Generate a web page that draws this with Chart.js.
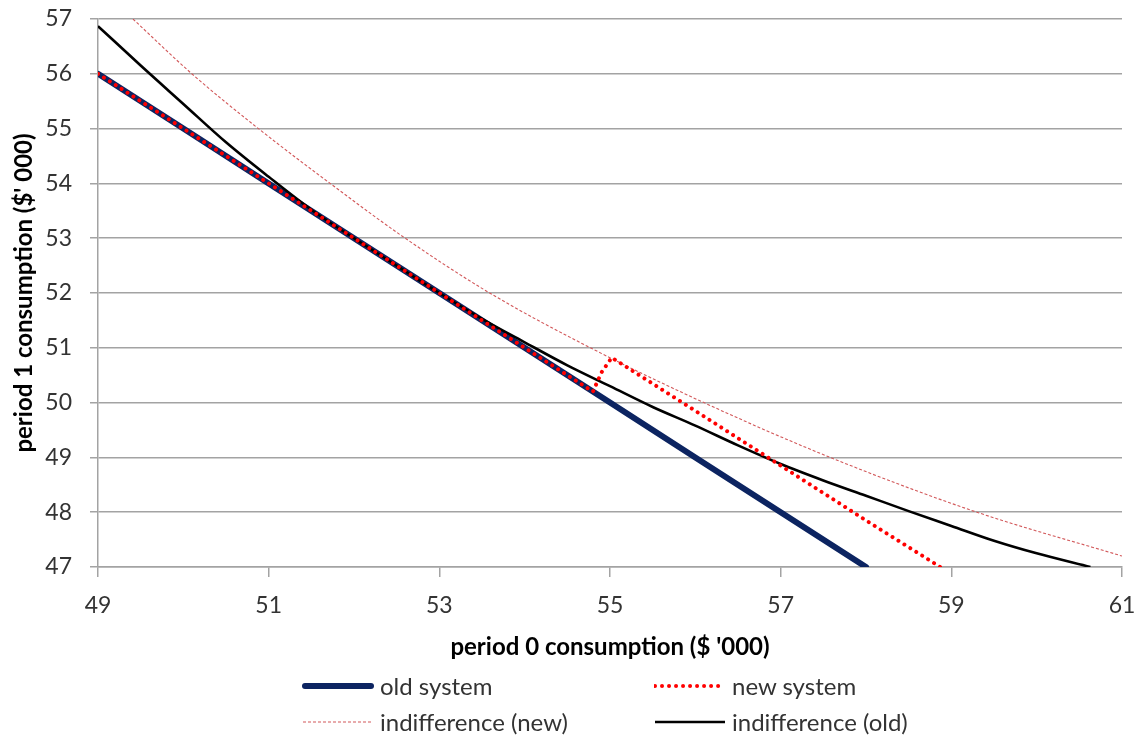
<!DOCTYPE html>
<html>
<head>
<meta charset="utf-8">
<script src="https://cdn.jsdelivr.net/npm/chart.js@4.4.1/dist/chart.umd.min.js"></script>
<style>
  html, body { margin: 0; padding: 0; background: #ffffff; }
  #wrap { position: relative; width: 1139px; height: 735px; overflow: hidden; }
  #c { position: absolute; left: 0; top: 0; }
  .lg { position: absolute; height: 30px; line-height: 30px; font-family: Lato, sans-serif; font-size: 24px; color: #333; white-space: nowrap; }
  .lg svg { position: absolute; left: 0; top: 0; }
  .lg span { position: absolute; top: 0; }
</style>
</head>
<body>
<div id="wrap">
  <canvas id="c" width="1139" height="735"></canvas>
  <div id="legend"></div>
</div>
<script>
// ---- data ----
const seriesNames = ["old system", "new system", "indifference (new)", "indifference (old)"];

const oldSystemX = [49, 50, 51, 52, 53, 54, 55, 56, 57, 58];
const oldSystemY = [56, 55, 54, 53, 52, 51, 50, 49, 48, 47];

const newSystemX = [49, 50, 51, 52, 53, 54, 54.8, 54.9, 55.02, 56, 57, 58, 58.87];
const newSystemY = [56, 55, 54, 53, 52, 51, 50.2, 50.55, 50.82, 49.85, 48.85, 47.85, 47];

const indiffNewX = [49.41, 50.1, 50.88, 51.72, 52.6, 53.59, 54.77, 56.1, 57.58, 59.3, 61];
const indiffNewY = [57, 56, 55, 54, 53, 52, 51, 50, 49, 48, 47.2];

const indiffOldX = [49, 49.5, 50, 50.5, 51, 51.5, 52, 52.5, 53, 53.5, 54, 54.5, 55, 55.5, 56, 56.5, 57, 57.5, 58, 58.5, 59, 59.5, 60, 60.63];
const indiffOldY = [56.87, 56.15, 55.45, 54.75, 54.12, 53.52, 53.0, 52.5, 52.0, 51.53, 51.1, 50.68, 50.3, 49.92, 49.58, 49.22, 48.88, 48.58, 48.3, 48.02, 47.75, 47.48, 47.25, 47];

const xTickValues = [49, 51, 53, 55, 57, 59, 61];
const yTickValues = [47, 48, 49, 50, 51, 52, 53, 54, 55, 56, 57];

const xTitle = "period 0 consumption ($ '000)";
const yTitle = "period 1 consumption ($' 000)";

// ---- helpers ----
function pts(xs, ys) { return xs.map((x, i) => ({ x: x, y: ys[i] })); }

const NAVY = '#0c2461';
const RED = '#ff0000';
const PINK = '#d2585a';
const GRID = '#a3a3a3';

const datasets = [
  { label: seriesNames[0], data: pts(oldSystemX, oldSystemY), borderColor: NAVY, borderWidth: 6,
    borderCapStyle: 'round', tension: 0, order: 4 },
  { label: seriesNames[1], data: pts(newSystemX, newSystemY), borderColor: RED, borderWidth: 4,
    borderCapStyle: 'round', borderDash: [0.01, 7], tension: 0, order: 1 },
  { label: seriesNames[2], data: pts(indiffNewX, indiffNewY), borderColor: PINK, borderWidth: 1.1,
    borderDash: [3, 2], cubicInterpolationMode: 'monotone', order: 3 },
  { label: seriesNames[3], data: pts(indiffOldX, indiffOldY), borderColor: '#000000', borderWidth: 2.6,
    cubicInterpolationMode: 'monotone', order: 2 }
];
datasets.forEach(d => { d.pointRadius = 0; d.pointHoverRadius = 0; d.fill = false; d.clip = 0; });

const FONT = 'Lato, sans-serif';

new Chart(document.getElementById('c'), {
  type: 'line',
  data: { datasets: datasets },
  options: {
    responsive: false,
    devicePixelRatio: 1,
    animation: false,
    events: [],
    layout: { padding: { left: 0, right: 17, top: 19, bottom: 72 } },
    plugins: { legend: { display: false }, tooltip: { enabled: false } },
    scales: {
      x: {
        type: 'linear', min: 49, max: 61,
        afterBuildTicks: s => { s.ticks = xTickValues.map(v => ({ value: v })); },
        afterFit: s => { s.height = 96; s.paddingLeft = 0; s.paddingRight = 10; },
        ticks: { color: '#333', font: { family: FONT, size: 23 }, padding: 15, maxRotation: 0 },
        grid: { drawOnChartArea: false, drawTicks: true, tickLength: 10, color: GRID, lineWidth: 1.5 },
        border: { display: true, color: GRID, width: 1.5 },
        title: { display: true, text: xTitle, color: '#000', font: { family: FONT, size: 24, weight: 'bold' },
                 padding: { top: 0, bottom: 1 } }
      },
      y: {
        type: 'linear', min: 47, max: 57,
        afterBuildTicks: s => { s.ticks = yTickValues.map(v => ({ value: v })); },
        afterFit: s => { s.width = 98; s.paddingTop = 10; s.paddingBottom = 10; },
        ticks: { color: '#333', font: { family: FONT, size: 23 }, padding: 18 },
        grid: { drawOnChartArea: true, drawTicks: true, tickLength: 8, color: GRID, lineWidth: 1.5 },
        border: { display: true, color: GRID, width: 1.5 },
        title: { display: true, text: yTitle, color: '#000', font: { family: FONT, size: 24, weight: 'bold' },
                 padding: { top: 10, bottom: 0 } }
      }
    }
  }
});

// ---- legend (two-column grid like the reference), built from the datasets ----
const legendPos = [
  { left: 302, top: 671 }, { left: 654, top: 671 },
  { left: 302, top: 707 }, { left: 654, top: 707 }
];
const legendEl = document.getElementById('legend');
datasets.forEach((d, i) => {
  const item = document.createElement('div');
  item.className = 'lg';
  item.style.left = legendPos[i].left + 'px';
  item.style.top = legendPos[i].top + 'px';
  item.style.width = '320px';
  const dash = d.borderDash ? d.borderDash.join(' ') : 'none';
  const cap = d.borderCapStyle || 'butt';
  const x1 = cap === 'round' && !d.borderDash ? 3 : 1;
  item.innerHTML =
    '<svg width="72" height="30"><line x1="' + x1 + '" y1="15" x2="' + (71 - x1 + 1) + '" y2="15" stroke="' + d.borderColor +
    '" stroke-width="' + d.borderWidth + '" stroke-linecap="' + cap + '" stroke-dasharray="' + dash + '"/></svg>' +
    '<span style="left:' + 78 + 'px">' + d.label + '</span>';
  legendEl.appendChild(item);
});
</script>
</body>
</html>
